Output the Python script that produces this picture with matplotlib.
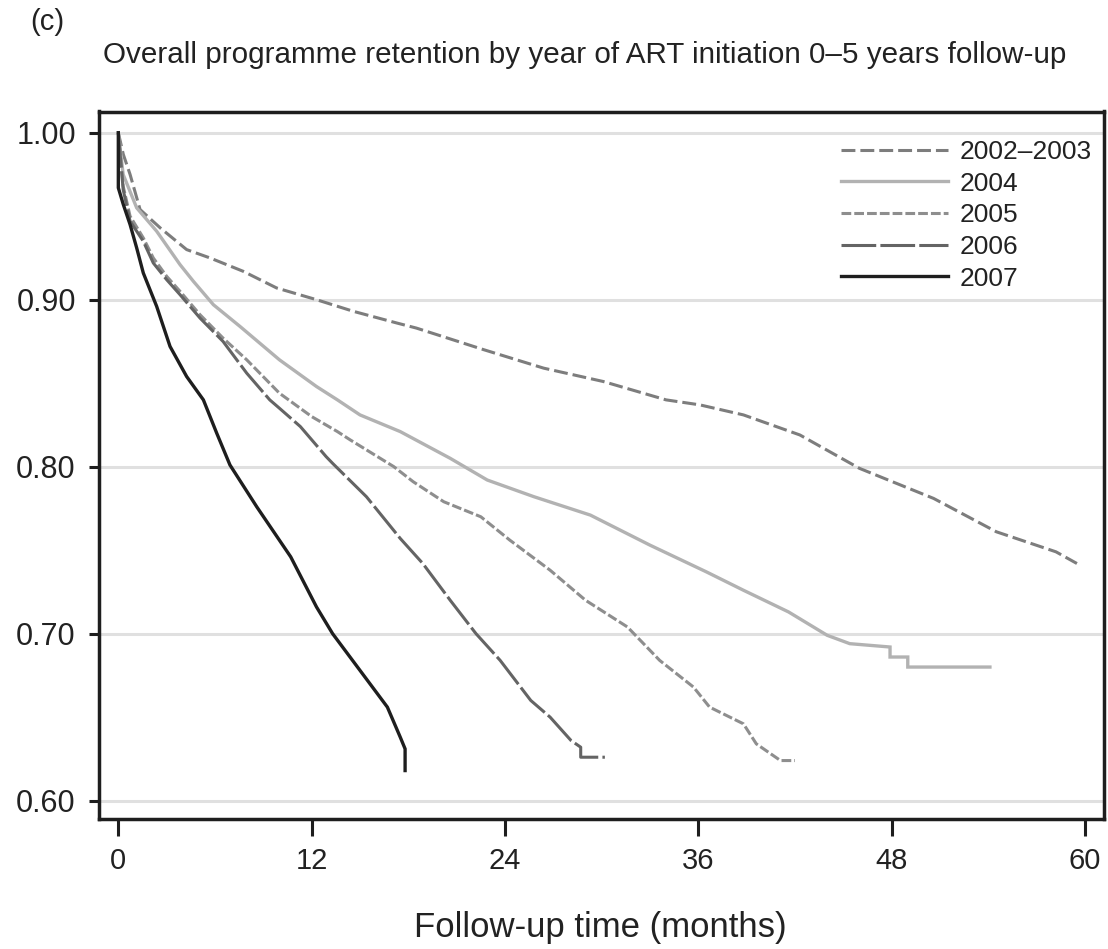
import matplotlib
matplotlib.use("Agg")
import matplotlib.pyplot as plt

plt.rcParams['font.family'] = ['Liberation Sans', 'DejaVu Sans']
plt.rcParams['lines.scale_dashes'] = False

# ---- data ----
series_labels = ["2002\u20132003", "2004", "2005", "2006", "2007"]

m_2002 = [0, 0.31, 0.73, 1.35, 2.6, 4.24, 5.69, 7.75, 9.83, 12.3, 14.6, 17.3, 18.5,
          22.7, 26.4, 30.1, 34.0, 36.1, 38.8, 42.3, 46.0, 50.6, 54.5, 58.2, 59.5]
s_2002 = [1.0, 0.987, 0.975, 0.954, 0.943, 0.930, 0.925, 0.917, 0.907, 0.900, 0.893, 0.886, 0.883,
          0.870, 0.859, 0.851, 0.840, 0.837, 0.831, 0.819, 0.799, 0.781, 0.761, 0.749, 0.742]

m_2004 = [0, 0.3, 0.93, 1.14, 2.38, 3.83, 4.66, 5.9, 7.55, 10.0, 12.3, 13.6, 15.0, 17.5,
          20.6, 22.9, 25.8, 29.3, 33.0, 36.5, 38.8, 41.6, 44.0, 45.4, 47.9, 47.9, 49.0, 49.0, 54.1]
s_2004 = [1.0, 0.975, 0.960, 0.955, 0.941, 0.921, 0.911, 0.897, 0.884, 0.864, 0.848, 0.840, 0.831, 0.821,
          0.805, 0.792, 0.782, 0.771, 0.753, 0.737, 0.726, 0.713, 0.699, 0.694, 0.692, 0.686, 0.686, 0.680, 0.680]

m_2005 = [0, 0.3, 0.73, 1.55, 2.17, 3.0, 3.83, 5.07, 6.5, 7.97, 10.0, 12.0, 13.6, 14.4, 17.1,
          18.3, 20.2, 22.5, 24.3, 26.8, 29.0, 31.6, 33.6, 35.7, 36.7, 38.8, 39.6, 41.1, 42.0]
s_2005 = [1.0, 0.968, 0.950, 0.937, 0.925, 0.914, 0.905, 0.891, 0.877, 0.864, 0.844, 0.830, 0.821, 0.816, 0.800,
          0.791, 0.779, 0.770, 0.756, 0.738, 0.720, 0.704, 0.684, 0.668, 0.656, 0.646, 0.634, 0.624, 0.624]

m_2006 = [0, 0.3, 0.73, 1.55, 2.17, 3.0, 3.83, 5.07, 6.5, 7.97, 9.4, 10.0, 11.3, 12.9, 13.3,
          15.4, 17.5, 18.9, 20.6, 22.2, 23.7, 25.6, 26.8, 28.1, 28.7, 28.7, 30.2]
s_2006 = [1.0, 0.966, 0.947, 0.935, 0.922, 0.912, 0.903, 0.889, 0.875, 0.856, 0.840, 0.835, 0.824, 0.806, 0.802,
          0.782, 0.757, 0.742, 0.720, 0.700, 0.684, 0.660, 0.650, 0.636, 0.632, 0.626, 0.626]

m_2007 = [0, 0, 0.31, 0.73, 1.14, 1.55, 2.38, 3.21, 4.24, 5.28, 6.11, 6.93, 8.59, 10.7,
          12.3, 13.3, 15.0, 16.7, 17.5, 17.8, 17.8]
s_2007 = [1.0, 0.967, 0.957, 0.945, 0.931, 0.916, 0.896, 0.872, 0.854, 0.840, 0.820, 0.801, 0.776, 0.746,
          0.716, 0.700, 0.678, 0.656, 0.638, 0.631, 0.618]

x_ticks = [0, 12, 24, 36, 48, 60]
y_ticks = [0.60, 0.70, 0.80, 0.90, 1.00]
y_tick_labels = ["0.60", "0.70", "0.80", "0.90", "1.00"]

title = "Overall programme retention by year of ART initiation 0\u20135 years follow-up"
panel = "(c)"
xlabel = "Follow-up time (months)"

# ---- figure ----
W, H = 1108, 949
fig = plt.figure(figsize=(W / 100, H / 100), dpi=100)
ax = fig.add_axes([98.5 / W, 1 - 819 / H, (1104 - 98.5) / W, (819 - 111.5) / H])

text_color = "#222222"

styles = [
    dict(color="#7d7d7d", lw=2.2, dashes=(10, 3.6)),
    dict(color="#b2b2b2", lw=2.4, linestyle="-"),
    dict(color="#8e8e8e", lw=2.2, dashes=(7, 2.2)),
    dict(color="#646464", lw=2.2, dashes=(25, 3)),
    dict(color="#1e1e1e", lw=2.4, linestyle="-"),
]
data = [(m_2002, s_2002), (m_2004, s_2004), (m_2005, s_2005), (m_2006, s_2006), (m_2007, s_2007)]

for (mx, sy), lab, st in zip(data, series_labels, styles):
    ax.plot(mx, sy, label=lab, solid_joinstyle="miter", zorder=3, **st)

ax.set_xlim(-1.23, 61.18)
ax.set_ylim(0.589, 1.0127)
ax.set_xticks(x_ticks)
ax.set_yticks(y_ticks)
ax.set_yticklabels(y_tick_labels)

ax.yaxis.grid(True, color="#e0e0e0", lw=2.2, zorder=0)
ax.set_axisbelow(True)

for sp in ax.spines.values():
    sp.set_linewidth(2.5)
    sp.set_color("#1e1e1e")

ax.tick_params(axis="x", length=12, width=2.2, color="#1e1e1e", labelsize=21,
               labelcolor=text_color, pad=8)
ax.tick_params(axis="y", length=7.3, width=2.2, color="#1e1e1e", labelsize=22,
               labelcolor=text_color, pad=9)

fig.text(600 / W, 1 - 928 / H, xlabel, ha="center", va="center", fontsize=25, color=text_color)
fig.text(585 / W, 1 - 55 / H, title, ha="center", va="center", fontsize=21.3, color=text_color)
fig.text(30 / W, 1 - 22 / H, panel, ha="left", va="center", fontsize=21, color=text_color)

leg = ax.legend(loc="upper left", bbox_to_anchor=(841 / W, 1 - 140 / H),
                bbox_transform=fig.transFigure, frameon=False, fontsize=19,
                handlelength=4.05, handletextpad=0.45, labelspacing=0.29,
                borderpad=0, borderaxespad=0)
for t in leg.get_texts():
    t.set_color(text_color)

fig.savefig("out.png", dpi=100)
